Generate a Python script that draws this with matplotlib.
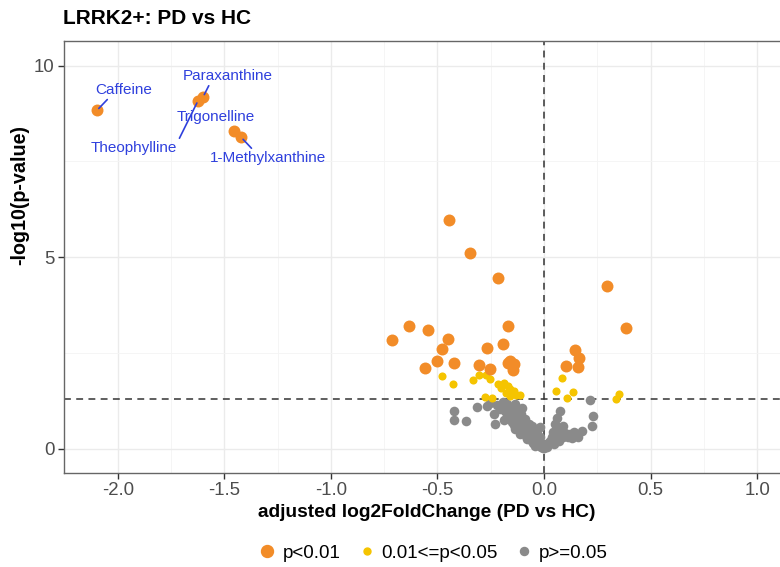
import matplotlib
matplotlib.use("Agg")
import matplotlib.pyplot as plt
from matplotlib.lines import Line2D
from matplotlib.ticker import MultipleLocator

plt.rcParams['font.family'] = ['Liberation Sans', 'DejaVu Sans']

# p < 0.01
sig_x = [-2.098, -1.600, -1.623, -1.455, -1.421,
         -0.447, -0.346, -0.216, 0.293, 0.386, -0.634, -0.545, -0.713, -0.452,
         -0.170, -0.478, -0.268, -0.193, 0.145, 0.164, 0.160, 0.103, -0.503,
         -0.421, -0.559, -0.304, -0.252, -0.162, -0.151, -0.143, -0.148, -0.171]
sig_y = [8.83, 9.18, 9.09, 8.30, 8.13,
         5.97, 5.10, 4.46, 4.24, 3.15, 3.22, 3.11, 2.85, 2.86,
         3.20, 2.61, 2.63, 2.74, 2.58, 2.38, 2.15, 2.17, 2.29,
         2.25, 2.12, 2.18, 2.08, 2.30, 2.21, 2.22, 2.06, 2.23]

# 0.01 <= p < 0.05
mid_x = [-0.478, -0.427, -0.335, -0.304, -0.271, -0.252, -0.216, -0.190, -0.171,
         -0.159, -0.143, -0.276, -0.244, -0.143, -0.112, -0.159, -0.200, -0.130,
         -0.180, 0.083, 0.056, 0.134, 0.109, 0.352, 0.336]
mid_y = [1.91, 1.69, 1.80, 1.92, 1.93, 1.82, 1.69, 1.72, 1.64,
         1.56, 1.47, 1.36, 1.34, 1.51, 1.40, 1.38, 1.58, 1.42,
         1.45, 1.86, 1.51, 1.49, 1.34, 1.43, 1.30]

# p >= 0.05
ns_x = [-0.424, -0.421, -0.364, -0.315, -0.268, -0.252, -0.237, -0.229, -0.206,
        -0.190, -0.174, -0.159, -0.151, -0.136, -0.120, -0.112, -0.089, -0.081,
        -0.057, -0.042, -0.019, -0.011, -0.136, -0.104, -0.220, -0.195, -0.185,
        -0.175, -0.165, -0.160, -0.145, -0.140, -0.130, -0.125, -0.115, -0.110,
        -0.100, -0.095, -0.090, -0.085, -0.075, -0.070, -0.065, -0.060, -0.050,
        -0.045, -0.035, -0.030, -0.025, -0.015, -0.005, 0.000, -0.057, -0.034,
        -0.003, -0.019,
        0.075, 0.059, 0.051, 0.090, 0.230, 0.215, 0.223, 0.176, 0.160, 0.121,
        0.028, 0.044, 0.090, 0.010, 0.020, 0.035, 0.060, 0.065, 0.080, 0.100,
        0.110, 0.130, 0.140, 0.070, 0.045, 0.015]
ns_y = [0.99, 0.75, 0.73, 1.10, 1.12, 1.21, 0.90, 0.64, 1.04,
        0.75, 1.17, 0.95, 0.69, 0.51, 0.82, 0.38, 0.56, 0.25,
        0.21, 0.08, 0.56, 0.08, 1.17, 1.08, 1.15, 1.22, 0.98,
        0.85, 1.05, 0.78, 0.88, 0.62, 0.98, 0.70, 0.55, 0.90,
        0.62, 0.45, 0.78, 0.33, 0.50, 0.65, 0.30, 0.42, 0.15,
        0.35, 0.25, 0.10, 0.18, 0.05, 0.03, 0.02, 0.60, 0.47,
        0.12, 0.30,
        0.99, 0.82, 0.64, 0.60, 0.86, 1.27, 0.60, 0.47, 0.30, 0.38,
        0.21, 0.43, 0.30, 0.08, 0.15, 0.30, 0.35, 0.50, 0.45, 0.42,
        0.30, 0.28, 0.45, 0.22, 0.12, 0.04]

# labelled metabolites: name, point, label centre, line anchor on the label
label_names = ["Caffeine", "Paraxanthine", "Theophylline", "Trigonelline", "1-Methylxanthine"]
label_pts = [(-2.098, 8.83), (-1.600, 9.18), (-1.623, 9.09), (-1.455, 8.30), (-1.421, 8.13)]
label_txt = [(-1.970, 9.37), (-1.482, 9.73), (-1.923, 7.85), (-1.538, 8.66), (-1.295, 7.59)]
label_rel = [(0.25, 0.0), (0.3, 0.0), (1.0, 0.9), None, (0.38, 1.0)]

c_sig = '#F28C28'
c_mid = '#F5C400'
c_ns = '#8A8A8A'
c_lab = '#2F40DD'

fig = plt.figure(figsize=(7.8, 5.67), dpi=100)
ax = fig.add_axes([0.0821, 0.1663, 0.9297, 0.7619])

ax.scatter(ns_x, ns_y, s=48, color=c_ns, linewidths=0, zorder=3)
ax.scatter(mid_x, mid_y, s=34, color=c_mid, linewidths=0, zorder=4)
ax.scatter(sig_x, sig_y, s=74, color=c_sig, linewidths=0, zorder=5)

ax.axhline(1.301, color='#333333', ls=(0, (4.5, 3.5)), lw=1.1, zorder=2)
ax.axvline(0, color='#333333', ls=(0, (4.5, 3.5)), lw=1.1, zorder=2)

for name, pt, tp, rel in zip(label_names, label_pts, label_txt, label_rel):
    if rel is None:
        ax.text(tp[0], tp[1], name, color=c_lab, fontsize=11, ha='center', va='center', zorder=6)
    else:
        ax.annotate(name, xy=pt, xytext=tp, color=c_lab, fontsize=11,
                    ha='center', va='center', zorder=6,
                    arrowprops=dict(arrowstyle='-', color=c_lab, lw=1.2,
                                    relpos=rel, shrinkA=0, shrinkB=2))

ax.set_xlim(-2.252, 1.15)
ax.set_ylim(-0.62, 10.65)
ax.xaxis.set_major_locator(MultipleLocator(0.5))
ax.xaxis.set_minor_locator(MultipleLocator(0.25))
ax.yaxis.set_major_locator(MultipleLocator(5))
ax.yaxis.set_minor_locator(MultipleLocator(2.5))
ax.set_xticks([-2.0, -1.5, -1.0, -0.5, 0.0, 0.5, 1.0])
ax.set_xticklabels(['-2.0', '-1.5', '-1.0', '-0.5', '0.0', '0.5', '1.0'])
ax.set_yticks([0, 5, 10])
ax.set_yticklabels(['0', '5', '10'])
ax.grid(which='major', color='#EBEBEB', lw=1.0, zorder=0)
ax.grid(which='minor', color='#F4F4F4', lw=0.6, zorder=0)
ax.set_axisbelow(True)
ax.tick_params(which='major', length=4, width=1, color='#333333',
               labelsize=13.4, labelcolor='#4D4D4D', pad=3)
ax.tick_params(which='minor', length=0)
for sp in ax.spines.values():
    sp.set_color('#666666')
    sp.set_linewidth(1.0)

ax.set_xlabel('adjusted log2FoldChange (PD vs HC)', fontsize=13.8, fontweight='bold', labelpad=3)
fig.text(20 / 780, 1 - 195 / 567, '-log10(p-value)', fontsize=14.2, fontweight='bold',
         rotation=90, ha='center', va='center')
fig.text(63 / 780, 1 - 19 / 567, 'LRRK2+: PD vs HC', fontsize=15, fontweight='bold',
         ha='left', va='center')

handles = [Line2D([], [], marker='o', ls='', color=c_sig, markersize=8.6),
           Line2D([], [], marker='o', ls='', color=c_mid, markersize=5.0),
           Line2D([], [], marker='o', ls='', color=c_ns, markersize=5.8)]
fig.legend(handles, ['p<0.01', '0.01<=p<0.05', 'p>=0.05'], loc='center',
           bbox_to_anchor=(433 / 780, 1 - 553 / 567), ncol=3, frameon=False,
           fontsize=13.5, handletextpad=0.3, columnspacing=0.9, handlelength=1.0)

fig.savefig('out.png', dpi=100)
